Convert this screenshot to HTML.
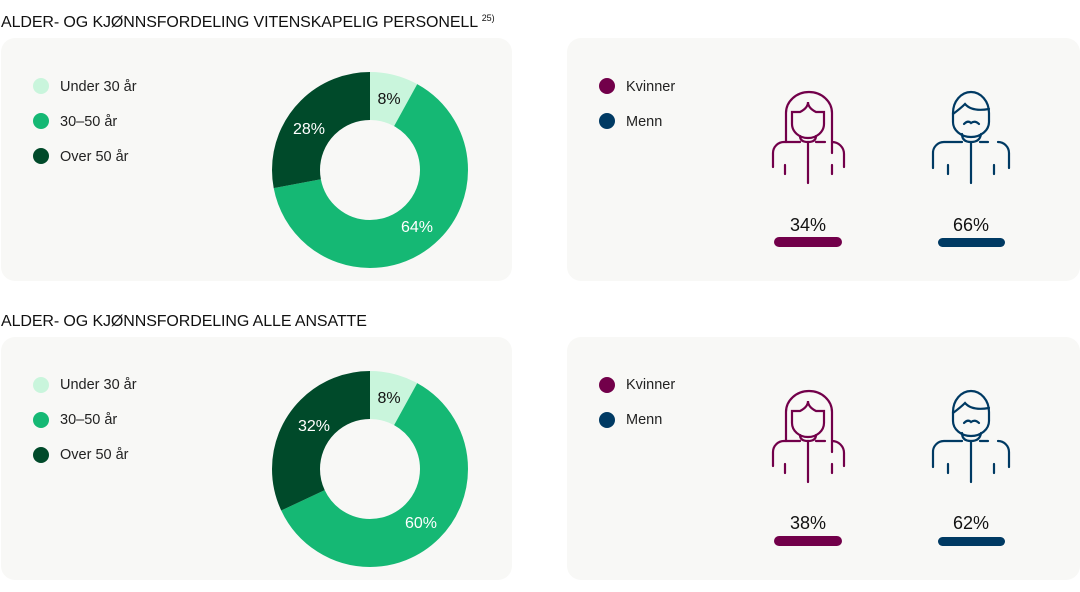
<!DOCTYPE html>
<html><head><meta charset="utf-8"><style>
body{margin:0;background:#fff;}
svg{display:block;font-family:"Liberation Sans",sans-serif;}
</style></head><body>
<svg width="1080" height="592" viewBox="0 0 1080 592">
<defs>
<g id="gender" fill="none" stroke-width="2.2" stroke-linecap="round">
  <g stroke="#72004a">
    <path d="M786,142 V113 A23,21 0 0 1 832,113 V153"/>
    <path d="M792,112 H800 Q808,108 808,102 Q808,108 816,112 H824 V124 A16,14 0 0 1 792,124 Z"/>
    <path d="M800,136 Q800,142 808,142 Q816,142 816,136"/>
    <path d="M773,167 V153 A11,11 0 0 1 784,142 H800"/>
    <path d="M816,142 H825"/>
    <path d="M832,142 A12,12 0 0 1 844,154 V167"/>
    <path d="M808,142 V183 M785,165 V174 M832,165 V174"/>
  </g>
  <g stroke="#003a63">
    <path d="M953,113 A18,21 0 0 1 989,113 V122 A18,15 0 0 1 953,122 Z"/>
    <path d="M953,114 Q961,108 965,104 Q972,112 989,109"/>
    <path d="M964,124 Q968,120 971,123 Q975,120 979,124"/>
    <path d="M962,134 Q962,142 971,142 Q980,142 981,134"/>
    <path d="M933,168 V154 A11,11 0 0 1 944,142 H962"/>
    <path d="M980,142 H988"/>
    <path d="M998,142 A11,11 0 0 1 1009,153 V168"/>
    <path d="M971,142 V183 M948,165 V174 M994,165 V174"/>
  </g>
</g>
</defs>

<!-- Row 1 -->
<text x="1" y="27" font-size="16" fill="#111" letter-spacing="-0.1">ALDER- OG KJØNNSFORDELING VITENSKAPELIG PERSONELL <tspan font-size="9" dy="-6">25)</tspan></text>
<rect x="1" y="38" width="511" height="243" rx="14" fill="#f8f8f6"/>
<rect x="567" y="38" width="513" height="243" rx="14" fill="#f8f8f6"/>
<circle cx="41" cy="86" r="8" fill="#c9f5dc"/><text x="60" y="91" font-size="14.5" fill="#222">Under 30 år</text>
<circle cx="41" cy="121" r="8" fill="#15b874"/><text x="60" y="126" font-size="14.5" fill="#222">30–50 år</text>
<circle cx="41" cy="156" r="8" fill="#004a2a"/><text x="60" y="161" font-size="14.5" fill="#222">Over 50 år</text>
<g transform="rotate(-90 370 170)" fill="none" stroke-width="48">
  <circle cx="370" cy="170" r="74" stroke="#c9f5dc" stroke-dasharray="37.2 465" stroke-dashoffset="0"/>
  <circle cx="370" cy="170" r="74" stroke="#15b874" stroke-dasharray="297.6 465" stroke-dashoffset="-37.2"/>
  <circle cx="370" cy="170" r="74" stroke="#004a2a" stroke-dasharray="130.2 465" stroke-dashoffset="-334.8"/>
</g>
<text x="389" y="104" font-size="16" fill="#111" text-anchor="middle">8%</text>
<text x="309" y="134" font-size="16" fill="#fff" text-anchor="middle">28%</text>
<text x="417" y="232" font-size="16" fill="#fff" text-anchor="middle">64%</text>
<circle cx="607" cy="86" r="8" fill="#72004a"/><text x="626" y="91" font-size="14.5" fill="#222">Kvinner</text>
<circle cx="607" cy="121" r="8" fill="#003a63"/><text x="626" y="126" font-size="14.5" fill="#222">Menn</text>
<use href="#gender"/>
<text x="808" y="231" font-size="18" fill="#111" text-anchor="middle">34%</text>
<rect x="774" y="237" width="68" height="10" rx="5" fill="#72004a"/>
<text x="971" y="231" font-size="18" fill="#111" text-anchor="middle">66%</text>
<rect x="938" y="238" width="67" height="9" rx="4.5" fill="#003a63"/>

<!-- Row 2 -->
<g transform="translate(0,299)">
<rect x="1" y="38" width="511" height="243" rx="14" fill="#f8f8f6"/>
<rect x="567" y="38" width="513" height="243" rx="14" fill="#f8f8f6"/>
<circle cx="41" cy="86" r="8" fill="#c9f5dc"/><text x="60" y="90" font-size="14.5" fill="#222">Under 30 år</text>
<circle cx="41" cy="121" r="8" fill="#15b874"/><text x="60" y="125" font-size="14.5" fill="#222">30–50 år</text>
<circle cx="41" cy="156" r="8" fill="#004a2a"/><text x="60" y="160" font-size="14.5" fill="#222">Over 50 år</text>
<g transform="rotate(-90 370 170)" fill="none" stroke-width="48">
  <circle cx="370" cy="170" r="74" stroke="#c9f5dc" stroke-dasharray="37.2 465" stroke-dashoffset="0"/>
  <circle cx="370" cy="170" r="74" stroke="#15b874" stroke-dasharray="279 465" stroke-dashoffset="-37.2"/>
  <circle cx="370" cy="170" r="74" stroke="#004a2a" stroke-dasharray="148.8 465" stroke-dashoffset="-316.2"/>
</g>
<text x="389" y="104" font-size="16" fill="#111" text-anchor="middle">8%</text>
<text x="314" y="132" font-size="16" fill="#fff" text-anchor="middle">32%</text>
<text x="421" y="229" font-size="16" fill="#fff" text-anchor="middle">60%</text>
<circle cx="607" cy="86" r="8" fill="#72004a"/><text x="626" y="90" font-size="14.5" fill="#222">Kvinner</text>
<circle cx="607" cy="121" r="8" fill="#003a63"/><text x="626" y="125" font-size="14.5" fill="#222">Menn</text>
<use href="#gender"/>
<text x="808" y="230" font-size="18" fill="#111" text-anchor="middle">38%</text>
<rect x="774" y="237" width="68" height="10" rx="5" fill="#72004a"/>
<text x="971" y="230" font-size="18" fill="#111" text-anchor="middle">62%</text>
<rect x="938" y="238" width="67" height="9" rx="4.5" fill="#003a63"/>
</g>
<text x="1" y="326" font-size="16" fill="#111" letter-spacing="-0.1">ALDER- OG KJØNNSFORDELING ALLE ANSATTE</text>
</svg>
</body></html>
